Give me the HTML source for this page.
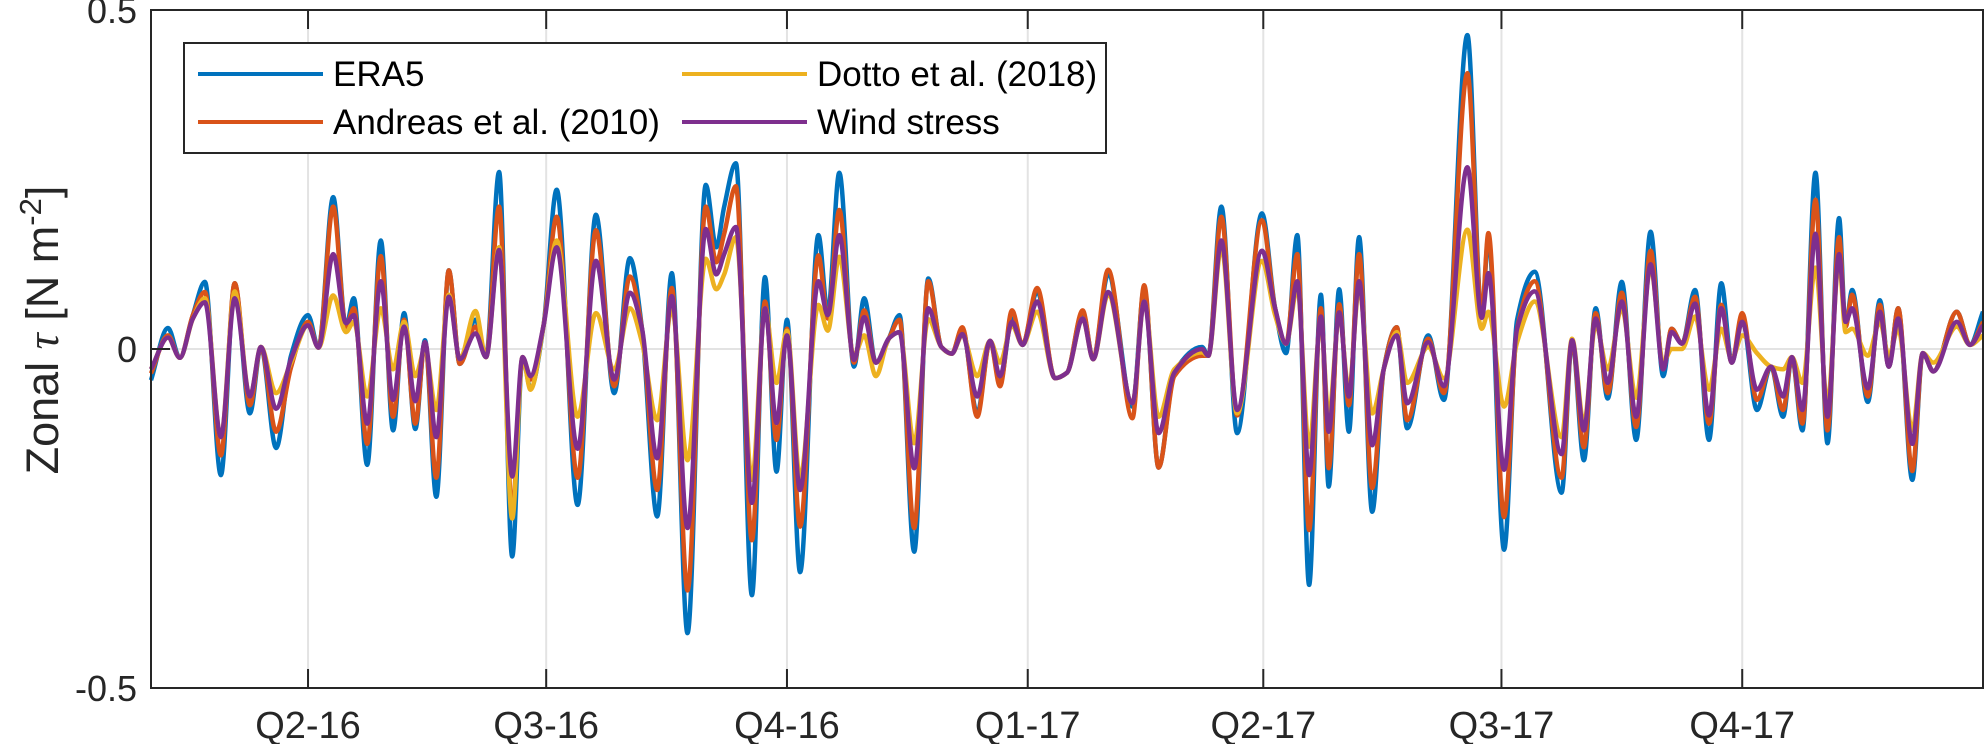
<!DOCTYPE html>
<html><head><meta charset="utf-8"><style>
html,body{margin:0;padding:0;background:#fff;}
svg{display:block;font-family:"Liberation Sans",Arial,sans-serif;}
</style></head><body>
<svg id="chart" width="1984" height="744" viewBox="0 0 1984 744">
<g id="grid"></g>
<g id="series"></g>
<g id="axes"></g>
<text transform="translate(58,330) rotate(-90)" text-anchor="middle" font-size="45" fill="#262626">Zonal <tspan font-family="'Liberation Serif',serif" font-style="italic">τ</tspan> [N m<tspan dy="-17" font-size="31">-2</tspan><tspan dy="17">]</tspan></text>
<g>
<rect x="184" y="43" width="922" height="110" fill="#fff" stroke="#262626" stroke-width="2"/>
<g><line x1="198" y1="74" x2="323" y2="74" stroke="#0072BD" stroke-width="4"/><text x="333" y="86" font-size="35">ERA5</text></g>
<g><line x1="198" y1="122" x2="323" y2="122" stroke="#D95319" stroke-width="4"/><text x="333" y="134" font-size="35">Andreas et al. (2010)</text></g>
<g><line x1="682" y1="74" x2="807" y2="74" stroke="#EDB120" stroke-width="4"/><text x="817" y="86" font-size="35">Dotto et al. (2018)</text></g>
<g><line x1="682" y1="122" x2="807" y2="122" stroke="#7E2F8E" stroke-width="4"/><text x="817" y="134" font-size="35">Wind stress</text></g>
</g>
</svg>
<script>
const days=[0,6.5,11,16,20.6,26.7,32,37.8,42,47.8,53.5,60,64,69.6,74.5,77.5,82.6,87.8,92.5,96.7,101,104.7,109,113.8,118,124,128,133,138,142,145,150,155,163,170,177,183,187.6,193.4,199,205,212,216,219,223.5,229.6,234.6,239,243,248,255,258.6,263,268.6,272.5,277,282,286,291.6,297,302,306,310,315.7,320.6,324.4,329,333,338.6,345.4,350,356,360,365.7,375,379.5,385,391,401.6,404,409,415,424.5,429.5,433.7,438,442.5,447,450,454,457.7,461.6,466.6,471,476,480,488,494,503,508.5,511,517,522,528.7,539,543,547.5,552,556.6,562,567.5,573,577.8,581,585,590,595.3,600,604,608,613.6,619,623.6,627,631,636,640.6,645,647.5,650,656,660.6,664,667.6,673,677,681,690,695,700];
const era5=[-0.046,0.031,-0.013,0.05,0.099,-0.186,0.097,-0.095,0.003,-0.146,-0.01,0.05,0.002,0.224,0.033,0.075,-0.171,0.16,-0.12,0.053,-0.118,0.013,-0.218,0.116,-0.022,0.043,-0.012,0.261,-0.306,-0.012,-0.058,0.035,0.235,-0.23,0.198,-0.065,0.134,0.03,-0.247,0.112,-0.419,0.242,0.15,0.21,0.274,-0.363,0.106,-0.181,0.043,-0.329,0.168,0.053,0.26,-0.026,0.075,-0.02,0.016,0.05,-0.299,0.104,0.003,-0.007,0.03,-0.095,0.012,-0.05,0.045,0.006,0.085,-0.043,-0.035,0.055,-0.015,0.11,-0.085,0.09,-0.175,-0.035,0.003,-0.01,0.21,-0.124,0.2,0.06,-0.006,0.168,-0.348,0.08,-0.203,0.088,-0.122,0.165,-0.24,-0.03,0.032,-0.117,0.02,-0.075,0.463,0.05,0.165,-0.296,0.043,0.114,-0.212,0.013,-0.164,0.06,-0.073,0.099,-0.134,0.173,-0.04,0.03,0.008,0.087,-0.134,0.097,-0.02,0.045,-0.09,-0.026,-0.1,-0.012,-0.12,0.26,-0.139,0.193,0.033,0.087,-0.078,0.072,-0.026,0.06,-0.193,-0.006,-0.033,0.055,0.006,0.055];
const andreas=[-0.036,0.02,-0.013,0.05,0.084,-0.157,0.097,-0.083,0.003,-0.122,-0.027,0.04,0.002,0.21,0.033,0.06,-0.14,0.137,-0.1,0.043,-0.11,0.01,-0.19,0.116,-0.022,0.033,-0.012,0.21,-0.24,-0.012,-0.045,0.035,0.195,-0.19,0.175,-0.055,0.107,0.03,-0.208,0.09,-0.356,0.21,0.128,0.17,0.24,-0.282,0.07,-0.134,0.03,-0.262,0.138,0.045,0.205,-0.02,0.057,-0.02,0.016,0.043,-0.264,0.1,0.003,-0.007,0.032,-0.1,0.012,-0.055,0.057,0.006,0.09,-0.043,-0.035,0.057,-0.015,0.117,-0.102,0.094,-0.175,-0.04,-0.01,-0.01,0.195,-0.098,0.19,0.06,0.008,0.14,-0.267,0.06,-0.176,0.066,-0.083,0.14,-0.205,-0.03,0.032,-0.105,0.015,-0.065,0.407,0.053,0.171,-0.248,0.03,0.1,-0.19,0.013,-0.145,0.053,-0.065,0.083,-0.115,0.145,-0.03,0.03,0.008,0.077,-0.11,0.065,-0.02,0.053,-0.075,-0.026,-0.09,-0.012,-0.11,0.22,-0.12,0.165,0.033,0.08,-0.07,0.065,-0.026,0.06,-0.18,-0.006,-0.033,0.055,0.006,0.04];
const dotto=[-0.03,0.017,-0.013,0.045,0.075,-0.13,0.085,-0.07,0.003,-0.065,-0.02,0.035,0.002,0.079,0.025,0.04,-0.07,0.06,-0.03,0.04,-0.04,0.0,-0.09,0.08,-0.015,0.056,-0.012,0.15,-0.25,-0.012,-0.06,0.035,0.16,-0.1,0.053,-0.03,0.06,0.01,-0.105,0.06,-0.164,0.133,0.088,0.11,0.165,-0.193,0.06,-0.05,0.027,-0.19,0.065,0.027,0.136,-0.01,0.02,-0.04,0.016,0.025,-0.139,0.044,0.003,-0.007,0.02,-0.04,0.012,-0.02,0.035,0.006,0.055,-0.043,-0.035,0.045,-0.015,0.08,-0.08,0.07,-0.1,-0.03,-0.005,-0.01,0.15,-0.095,0.13,0.05,0.008,0.09,-0.144,0.04,-0.1,0.05,-0.06,0.09,-0.095,-0.03,0.025,-0.05,0.003,-0.043,0.176,0.03,0.055,-0.085,0.01,0.07,-0.13,0.015,-0.11,0.036,-0.03,0.06,-0.072,0.12,-0.02,0.0,0.0,0.048,-0.06,0.03,-0.015,0.02,-0.006,-0.026,-0.03,-0.012,-0.05,0.12,-0.08,0.13,0.025,0.03,-0.01,0.04,-0.01,0.03,-0.12,-0.006,-0.02,0.033,0.006,0.02];
const wind=[-0.03,0.017,-0.013,0.045,0.069,-0.13,0.075,-0.07,0.003,-0.088,-0.015,0.035,0.002,0.14,0.038,0.05,-0.11,0.1,-0.075,0.033,-0.077,0.01,-0.13,0.077,-0.015,0.023,-0.012,0.146,-0.188,-0.012,-0.04,0.035,0.15,-0.147,0.13,-0.045,0.083,0.03,-0.161,0.078,-0.264,0.177,0.11,0.14,0.18,-0.227,0.06,-0.109,0.02,-0.208,0.1,0.05,0.168,-0.016,0.047,-0.02,0.016,0.025,-0.176,0.06,0.003,-0.007,0.022,-0.07,0.012,-0.04,0.04,0.006,0.07,-0.043,-0.035,0.045,-0.015,0.084,-0.08,0.07,-0.124,-0.035,0.0,-0.01,0.16,-0.09,0.145,0.06,0.008,0.1,-0.186,0.048,-0.122,0.054,-0.07,0.1,-0.142,-0.03,0.02,-0.08,0.01,-0.055,0.268,0.046,0.112,-0.178,0.03,0.085,-0.155,0.013,-0.12,0.045,-0.05,0.07,-0.1,0.125,-0.03,0.025,0.008,0.067,-0.098,0.06,-0.02,0.04,-0.06,-0.026,-0.07,-0.012,-0.09,0.17,-0.1,0.14,0.04,0.06,-0.058,0.055,-0.026,0.045,-0.14,-0.006,-0.033,0.04,0.006,0.035];
const xTickDays=[60,151,243,335,425,516,608];
const xTickLabels=["Q2-16","Q3-16","Q4-16","Q1-17","Q2-17","Q3-17","Q4-17"];
const yTicks=[-0.5,0,0.5];
const yTickLabels=["-0.5","0","0.5"];

const L=151,R=1983,T=10,B=688,D0=0,D1=700,V0=-0.5,V1=0.5;
function xs(d){return L+(d-D0)/(D1-D0)*(R-L);}
function ys(v){return B-(v-V0)/(V1-V0)*(B-T);}
const NS="http://www.w3.org/2000/svg";
function mk(tag,attrs,parent){const e=document.createElementNS(NS,tag);for(const k in attrs)e.setAttribute(k,attrs[k]);parent.appendChild(e);return e;}

const grid=document.getElementById('grid'),axes=document.getElementById('axes'),ser=document.getElementById('series');
xTickDays.forEach((d,i)=>{
  const x=xs(d);
  const g=mk('line',{x1:x,y1:T,x2:x,y2:B,stroke:'#e3e3e3','stroke-width':2},grid);
  
  
  const t1=mk('line',{x1:x,y1:B,x2:x,y2:B-19,stroke:'#262626','stroke-width':2},axes);
  
  
  const t2=mk('line',{x1:x,y1:T,x2:x,y2:T+19,stroke:'#262626','stroke-width':2},axes);
  
  
  const lb=mk('text',{x:x,y:738,'text-anchor':'middle','font-size':38,fill:'#262626'},axes);
  lb.textContent=xTickLabels[i];
  
  
});
yTicks.forEach((v,i)=>{
  const y=ys(v);
  if(v!==V0&&v!==V1){
    const g=mk('line',{x1:L,y1:y,x2:R,y2:y,stroke:'#e3e3e3','stroke-width':2},grid);
    
    
  }
  const t=mk('line',{x1:L,y1:y,x2:L+19,y2:y,stroke:'#262626','stroke-width':2},axes);
  
  
  const lb=mk('text',{x:137,y:y+13,'text-anchor':'end','font-size':36,fill:'#262626'},axes);
  lb.textContent=yTickLabels[i];
  
  
});
const box=mk('rect',{x:L,y:T,width:R-L,height:B-T,fill:'none',stroke:'#262626','stroke-width':2},axes);



function monotonePath(xv,yv){
  const n=xv.length,px=xv.map(xs),py=yv.map(ys),m=[],dl=[];
  for(let i=0;i<n-1;i++)dl.push((py[i+1]-py[i])/(px[i+1]-px[i]));
  for(let i=0;i<n;i++){
    if(i===0)m.push(dl[0]);else if(i===n-1)m.push(dl[n-2]);
    else if(dl[i-1]*dl[i]<=0)m.push(0);
    else{const h0=px[i]-px[i-1],h1=px[i+1]-px[i];m.push(3*(h0+h1)/((2*h1+h0)/dl[i-1]+(h1+2*h0)/dl[i]));}
  }
  let d='M'+px[0].toFixed(1)+','+py[0].toFixed(1);
  for(let i=0;i<n-1;i++){
    const h=(px[i+1]-px[i])/3;
    d+='C'+(px[i]+h).toFixed(1)+','+(py[i]+m[i]*h).toFixed(1)+' '+(px[i+1]-h).toFixed(1)+','+(py[i+1]-m[i+1]*h).toFixed(1)+' '+px[i+1].toFixed(1)+','+py[i+1].toFixed(1);
  }
  return d;
}
const seriesList=[[era5,'#0072BD','line-era5'],[andreas,'#D95319','line-andreas-2010'],[dotto,'#EDB120','line-dotto-2018'],[wind,'#7E2F8E','line-wind-stress']];
seriesList.forEach(s=>{
  const p=mk('path',{d:monotonePath(days,s[0]),fill:'none',stroke:s[1],'stroke-width':4.5,'stroke-linejoin':'round'},ser);
  
  
});
</script>
</body></html>
